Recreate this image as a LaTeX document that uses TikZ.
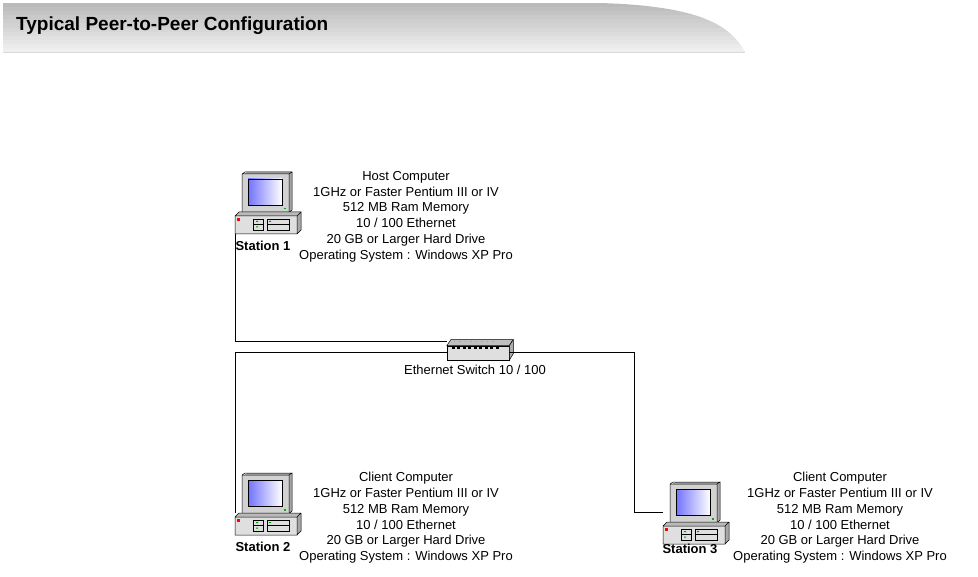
\documentclass[tikz,border=0pt]{standalone}
\usepackage{fontspec}
\setmainfont{Liberation Sans}
\begin{document}
\begin{tikzpicture}[x=1pt,y=-1pt,
  info/.style={align=center,font=\fontsize{13}{15.8}\selectfont,inner sep=0pt},
  lbl/.style={font=\bfseries\fontsize{13}{14}\selectfont,inner sep=0pt},
  wire/.style={line width=1pt,black},
  computer/.pic={
    % monitor
    \fill[gray!70] (9,2) -- (12,0) -- (57,0) -- (57,38) -- (54,41) -- (9,41) -- cycle;
    \fill[gray!35] (7,2) rectangle (54,41);
    \draw[black,line width=0.5pt] (7,2) rectangle (54,41) (54,2) -- (57,0) -- (57,38) -- (54,41) (7,2)--(10,0)--(57,0);
    \shade[left color=blue!55!white,right color=white,draw=black,line width=0.4pt] (13,7) rectangle (47,33);
    \fill[green!70!black] (49,36) rectangle (51,37.5);
    % base
    \fill[gray!55] (0,44) -- (4,40) -- (66,40) -- (62,44) -- cycle;
    \fill[gray!25] (0,44) rectangle (62,62);
    \fill[gray!70] (62,44) -- (66,40) -- (66,58) -- (62,62) -- cycle;
    \draw[black,line width=0.5pt] (0,44) rectangle (62,62) (0,44)--(4,40)--(66,40)--(66,58)--(62,62) (62,44)--(66,40);
    \fill[red] (2,46) rectangle (5,49);
    \draw[line width=0.4pt] (18,47) rectangle (28,58) (18,52.5)--(28,52.5) (32,47) rectangle (54,58) (32,52.5)--(54,52.5);
    \fill[green!60!black] (21,49) rectangle (23,50) (21,54.5) rectangle (23,55.5) (34,49) rectangle (36,50);
    \coordinate (-nw) at (0,40);
  }]
\useasboundingbox (0,0) rectangle (978,577);
\fill[white] (0,0) rectangle (978,577);
% title bar
\begin{scope}
\clip (3,3) -- (600,3) .. controls (700,6) and (730,25) .. (745,52) -- (3,52) -- cycle;
\foreach \i in {0,...,11}{
  \fill[black!\fpeval{27-\i*1.9}] (3,3+\i*4.1) rectangle (760,7.2+\i*4.1);
}
\end{scope}
\draw[gray!30] (3,52) -- (745,52);
\node[anchor=west,font=\bfseries\fontsize{19}{21}\selectfont,inner sep=0pt] (title) at (16,26) {Typical Peer-to-Peer Configuration};

% computers
\pic (c1) at (235,172) {computer};
\pic (c2) at (235,473) {computer};
\pic (c3) at (663,482) {computer};
\node[lbl] (s1) at (263,246) {Station 1};
\node[lbl] (s2) at (263,547) {Station 2};
\node[lbl] (s3) at (690,549) {Station 3};

\node[info,anchor=north] (t1) at (406,171) {Host Computer\\1GHz or Faster Pentium III or IV\\512 MB Ram Memory\\10 / 100 Ethernet\\20 GB or Larger Hard Drive\\Operating System : Windows XP Pro};
\node[info,anchor=north] (t2) at (406,472) {Client Computer\\1GHz or Faster Pentium III or IV\\512 MB Ram Memory\\10 / 100 Ethernet\\20 GB or Larger Hard Drive\\Operating System : Windows XP Pro};
\node[info,anchor=north] (t3) at (840,472) {Client Computer\\1GHz or Faster Pentium III or IV\\512 MB Ram Memory\\10 / 100 Ethernet\\20 GB or Larger Hard Drive\\Operating System : Windows XP Pro};

% switch
\node[minimum width=62pt,minimum height=14pt,inner sep=0pt,fill=gray!25,draw=black,line width=0.5pt] (sw) at (478,353) {};
\fill[gray!50,draw=black,line width=0.5pt] (sw.north west) -- ++(4,-6) -- ++(62,0) -- (sw.north east) -- cycle;
\fill[gray!65,draw=black,line width=0.5pt] (sw.north east) -- ++(4,-6) -- ++(0,14) -- (sw.south east) -- cycle;
\foreach \k in {0,...,8}{\fill[black] ([xshift={5+\k*5.5pt},yshift=-3pt]sw.north west) rectangle ++(3,-2);}
\foreach \k in {0,...,7}{\fill[gray!70] ([xshift={7+\k*5.5pt},yshift=3.5pt]sw.north west) rectangle ++(1.5,-1);}
\node[info] (swl) at (475,370) {Ethernet Switch 10 / 100};

% connectors
\coordinate (j1) at (235,342);
\coordinate (j2) at (235,353);
\coordinate (j3) at (634,353);
\draw[wire] (c1-nw) ++(0,22) -- (j1) -- (j1 -| sw.west);
\draw[wire] (sw.west |- j2) -- (j2) -- (c2-nw);
\draw[wire] (sw.east |- j3) -- (j3) |- ([yshift=10]c3-nw);
\end{tikzpicture}
\end{document}
